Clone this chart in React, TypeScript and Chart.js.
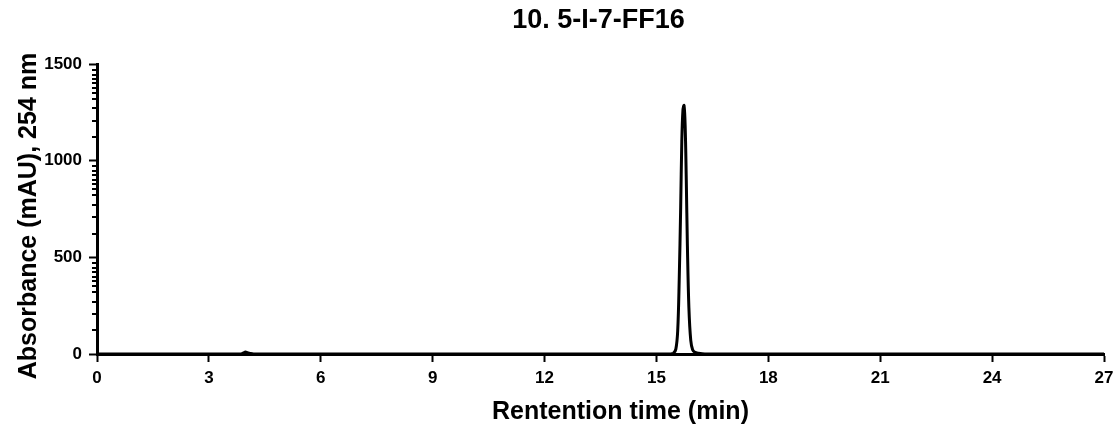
import React, { useEffect, useRef } from "react";
import { Chart, registerables } from "chart.js";

Chart.register(...registerables);

const TITLE = "10. 5-I-7-FF16";
const X_TITLE = "Rentention time (min)";
const Y_TITLE = "Absorbance (mAU), 254 nm";

// Retention time (min) and absorbance (mAU)
const times = [0, 3.85, 3.93, 3.98, 4.03, 4.1, 4.2, 15.3, 15.45, 15.52, 15.57, 15.61, 15.65, 15.68, 15.71, 15.74, 15.77, 15.8, 15.83, 15.87, 15.92, 15.97, 16.03, 16.12, 16.3, 27];
const absorbance = [0, 0, 6, 10, 7, 3, 0, 0, 4, 25, 120, 380, 760, 1100, 1260, 1285, 1180, 900, 560, 240, 70, 22, 9, 4, 0, 0];

const X_MIN = 0;
const X_MAX = 27;
const X_STEP = 3;
const Y_TICKS = [0, 500, 1000, 1500];
// minor tick positions within each 500-unit interval (fraction of interval)
const Y_MINOR_FRACTIONS = [0.245, 0.415, 0.54, 0.64, 0.705, 0.755, 0.8, 0.85, 0.89, 0.94];

const FONT = "'Liberation Sans', Arial, sans-serif";

const decorPlugin = {
  id: "decor",
  afterDraw(chart: any) {
    const y = chart.scales.y;
    const ctx = chart.ctx;
    const area = chart.chartArea;
    const xPix = area.left;
    ctx.save();
    // minor ticks on the y axis
    ctx.strokeStyle = "#000";
    ctx.lineWidth = 2;
    for (let i = 0; i < Y_TICKS.length - 1; i++) {
      const a = Y_TICKS[i];
      const b = Y_TICKS[i + 1];
      for (const f of Y_MINOR_FRACTIONS) {
        const v = a + (b - a) * f;
        const py = Math.round(y.getPixelForValue(v));
        ctx.beginPath();
        ctx.moveTo(xPix - 5, py);
        ctx.lineTo(xPix, py);
        ctx.stroke();
      }
    }
    // titles
    ctx.fillStyle = "#000";
    ctx.textAlign = "center";
    ctx.textBaseline = "alphabetic";
    const cx = (area.left + area.right) / 2;
    ctx.font = `bold 27px ${FONT}`;
    ctx.fillText(TITLE, cx - 2, 28);
    ctx.font = `bold 25px ${FONT}`;
    ctx.fillText(X_TITLE, cx + 20, 419);
    ctx.translate(36, (area.top + area.bottom) / 2 + 7);
    ctx.rotate(-Math.PI / 2);
    ctx.fillText(Y_TITLE, 0, 0);
    ctx.restore();
  },
};

export default function App() {
  const ref = useRef<HTMLCanvasElement | null>(null);
  useEffect(() => {
    if (!ref.current) return;
    const chart = new Chart(ref.current, {
      type: "line",
      data: {
        datasets: [
          {
            data: times.map((t, i) => ({ x: t, y: absorbance[i] })),
            borderColor: "#000",
            borderWidth: 3,
            pointRadius: 0,
            tension: 0.35,
            fill: false,
          },
        ],
      },
      options: {
        animation: false,
        responsive: false,
        maintainAspectRatio: false,
        layout: { padding: { left: 0, right: 13, top: 64, bottom: 0 } },
        plugins: {
          legend: { display: false },
          tooltip: { enabled: false },
          title: { display: false },
        },
        scales: {
          x: {
            type: "linear",
            min: X_MIN,
            max: X_MAX,
            afterFit(axis: any) {
              axis.height = 71;
              axis.paddingLeft = 0;
              axis.paddingRight = 0;
            },
            ticks: {
              stepSize: X_STEP,
              color: "#000",
              font: { family: FONT, size: 17, weight: "bold" },
              padding: 6,
              maxRotation: 0,
            },
            grid: {
              display: true,
              drawOnChartArea: false,
              drawTicks: true,
              tickLength: 8,
              tickWidth: 2,
              tickColor: "#000",
            },
            border: { display: true, color: "#000", width: 3 },
          },
          y: {
            type: "linear",
            min: 0,
            max: 1500,
            afterBuildTicks(axis: any) {
              axis.ticks = Y_TICKS.map((v) => ({ value: v }));
            },
            afterFit(axis: any) {
              axis.width = 97;
              axis.paddingTop = 0;
              axis.paddingBottom = 0;
            },
            ticks: {
              color: "#000",
              font: { family: FONT, size: 17, weight: "bold" },
              padding: 7,
              callback: (v: any) => String(v),
            },
            grid: {
              display: true,
              drawOnChartArea: false,
              drawTicks: true,
              tickLength: 8,
              tickWidth: 2,
              tickColor: "#000",
            },
            border: { display: true, color: "#000", width: 3 },
          },
        },
      },
      plugins: [decorPlugin],
    });
    return () => chart.destroy();
  }, []);
  return (
    <div style={{ position: "fixed", left: 0, top: 0, width: 1117, height: 425, background: "#fff" }}>
      <canvas ref={ref} width={1117} height={425} style={{ width: 1117, height: 425 }} />
    </div>
  );
}
